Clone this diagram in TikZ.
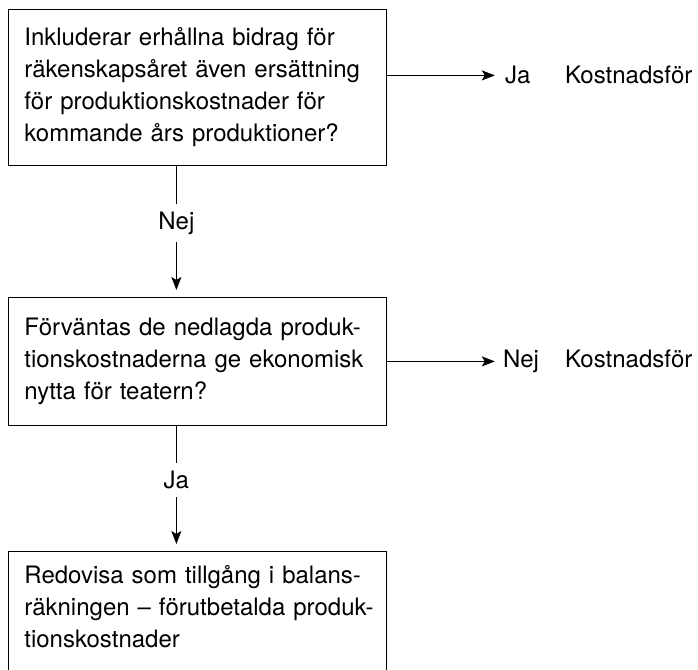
\documentclass[tikz,border=0pt]{standalone}
\usepackage{fontspec}
\setmainfont{TeX Gyre Heros}
\usetikzlibrary{arrows.meta, positioning}

\begin{document}
\begin{tikzpicture}[x=1pt, y=-1pt,
  box/.style={draw, line width=0.8pt, text width=346pt, inner xsep=16pt, align=left,
    anchor=north west, font=\fontsize{24}{32}\selectfont},
  lbl/.style={inner sep=0pt, font=\fontsize{24}{32}\selectfont},
  arr/.style={line width=0.8pt, -{Stealth[length=13pt, width=10pt, inset=3pt]}}]
\useasboundingbox (0,0) rectangle (698,669);
\clip (0,0) rectangle (698,669);
% Boxes
\node[box, minimum height=156pt] (q1) at (8,9)
  {Inkluderar erhållna bidrag för\\ räkenskapsåret även ersättning\\ för produktionskostnader för\\ kommande års produktioner?};
\node[box, minimum height=128pt] (q2) at (8,297)
  {Förväntas de nedlagda produk-\\ tionskostnaderna ge ekonomisk\\ nytta för teatern?};
\node[box, minimum height=142pt] (res) at (8,551)
  {Redovisa som tillgång i balans-\\ \mbox{räkningen – förutbetalda produk-}\\ tionskostnader\\ \mbox{}};
% Side branches
\draw[arr] ([yshift=12pt]q1.east) -- ++(108,0) coordinate (t1);
\node[lbl, anchor=west] (ja1) at ([xshift=10pt]t1) {Ja};
\node[lbl, anchor=base west] (k1) at (565,0 |- ja1.base) {Kostnadsför};
\draw[arr] (q2.east) -- ++(108,0) coordinate (t2);
\node[lbl, anchor=west] (nej2) at ([xshift=8pt]t2) {Nej};
\node[lbl, anchor=base west] (k2) at (565,0 |- nej2.base) {Kostnadsför};
% Down arrows
\draw[arr] ([xshift=-21pt]q1.south) -- node[lbl, fill=white, inner ysep=8pt, inner xsep=2pt, yshift=5pt] (nej1) {Nej} ([xshift=-21pt, yshift=7pt]q2.north);
\draw[arr] ([xshift=-21pt]q2.south) -- node[lbl, fill=white, inner ysep=8pt, inner xsep=2pt, yshift=5pt] (ja2) {Ja} ([xshift=-21pt, yshift=7pt]res.north);
\end{tikzpicture}
\end{document}
